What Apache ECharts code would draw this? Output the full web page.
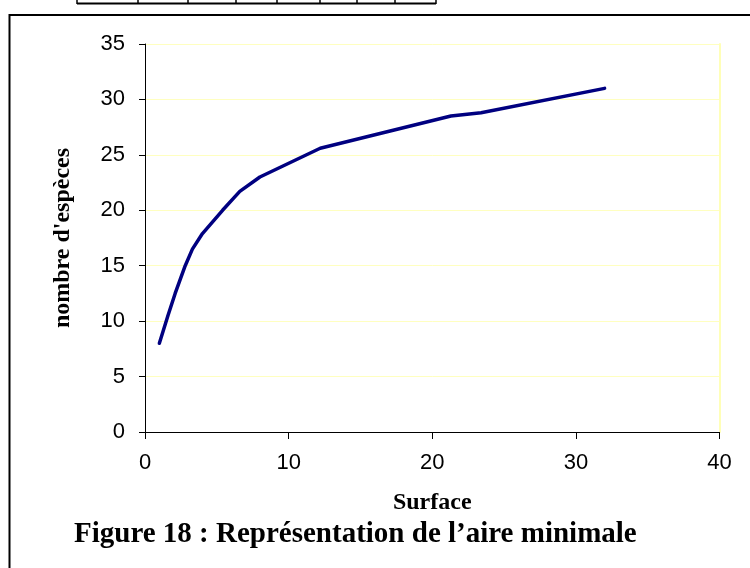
<!DOCTYPE html>
<html>
<head>
<meta charset="utf-8">
<script src="https://cdn.jsdelivr.net/npm/echarts@6/dist/echarts.min.js"></script>
<style>
html,body{margin:0;padding:0;background:#fff;}
#c{width:750px;height:568px;}
</style>
</head>
<body>
<div id="c"></div>
<script>
// Data
var surface = [1, 1.6, 2.1, 2.8, 3.3, 4, 5.4, 6.6, 8, 12.2, 21.3, 23.4, 32];
var especes = [8, 10.5, 12.5, 15, 16.5, 17.9, 20, 21.7, 23, 25.6, 28.5, 28.8, 31];
var xTicks = [0, 10, 20, 30, 40];
var yTicks = [0, 5, 10, 15, 20, 25, 30, 35];
var xTitle = 'Surface';
var yTitle = "nombre d'espèces";
var caption = 'Figure 18 : Représentation de l’aire minimale';
var tableCols = [77, 138, 188, 236, 277, 320, 357, 395, 436];

var pts = surface.map(function (x, i) { return [x, especes[i]]; });

var chart = echarts.init(document.getElementById('c'), null, {renderer: 'canvas'});

var graphics = [];
// partial table at top
graphics.push({type: 'line', shape: {x1: tableCols[0], y1: 3.5, x2: tableCols[tableCols.length - 1], y2: 3.5}, style: {stroke: '#000', lineWidth: 2}});
tableCols.forEach(function (cx) {
  graphics.push({type: 'line', shape: {x1: cx, y1: 0, x2: cx, y2: 4}, style: {stroke: '#000', lineWidth: 1.5}});
});
// outer frame
graphics.push({type: 'polyline', shape: {points: [[9.5, 600], [9.5, 15], [760, 15]]}, style: {stroke: '#000', lineWidth: 2, fill: null}});
// caption
graphics.push({type: 'text', x: 74, y: 535, style: {text: caption, font: 'bold 29px "Liberation Serif", "Times New Roman", serif', fill: '#000', textVerticalAlign: 'middle', verticalAlign: 'middle'}});

var serif = '"Liberation Serif", "Times New Roman", serif';
var sans = '"Liberation Sans", Arial, sans-serif';

chart.setOption({
  animation: false,
  grid: {left: 145, right: 30.5, top: 44, bottom: 136, containLabel: false},
  xAxis: {
    type: 'value', min: xTicks[0], max: xTicks[xTicks.length - 1], interval: 10,
    axisLine: {lineStyle: {color: '#000', width: 1}},
    axisTick: {show: true, inside: false, length: 7, lineStyle: {color: '#000'}},
    axisLabel: {color: '#000', fontSize: 22, fontFamily: sans, margin: 20},
    splitLine: {show: false},
    name: xTitle, nameLocation: 'middle', nameGap: 59,
    nameTextStyle: {color: '#000', fontSize: 24, fontWeight: 'bold', fontFamily: serif}
  },
  yAxis: [{
    type: 'value', min: yTicks[0], max: yTicks[yTicks.length - 1], interval: 5,
    axisLine: {show: true, lineStyle: {color: '#000', width: 1}},
    axisTick: {show: true, inside: false, length: 6, lineStyle: {color: '#000'}},
    axisLabel: {color: '#000', fontSize: 22, fontFamily: sans, margin: 20},
    splitLine: {show: true, lineStyle: {color: '#FFFFC0', width: 1}},
    name: yTitle, nameLocation: 'middle', nameGap: 70, nameRotate: 90,
    nameTextStyle: {color: '#000', fontSize: 24, fontWeight: 'bold', fontFamily: serif}
  }, {
    type: 'value', position: 'right', min: yTicks[0], max: yTicks[yTicks.length - 1], interval: 5,
    axisLine: {show: true, lineStyle: {color: '#FFFFB8', width: 2}},
    axisTick: {show: false}, axisLabel: {show: false}, splitLine: {show: false}
  }],
  series: [{
    type: 'line', data: pts, yAxisIndex: 0, showSymbol: false, symbol: 'none',
    lineStyle: {color: '#000080', width: 3.5, cap: 'round', join: 'round'},
    smooth: false
  }],
  graphic: graphics
});
</script>
</body>
</html>
